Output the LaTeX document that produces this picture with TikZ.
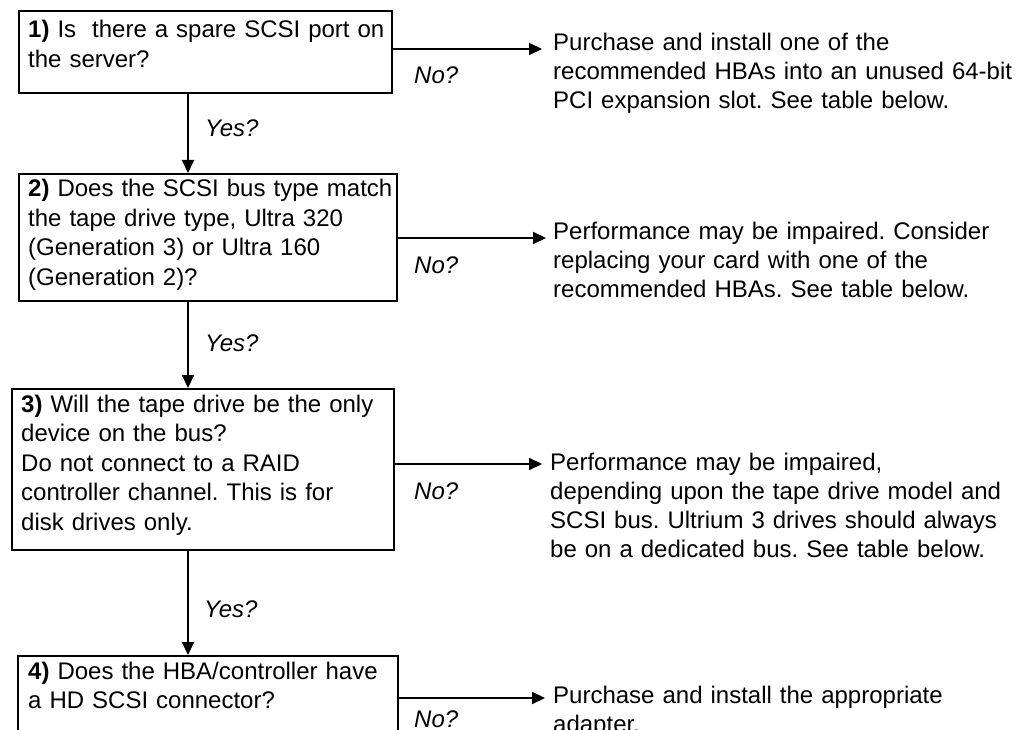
\documentclass[tikz,border=0pt]{standalone}
\usepackage{fontspec}
\setmainfont{Liberation Sans}
\usetikzlibrary{arrows.meta}
\frenchspacing
\begin{document}
\begin{tikzpicture}[x=1pt,y=-1pt,
  box/.style={draw, line width=2pt, rectangle, inner sep=0pt, anchor=north west},
  txt/.style={anchor=base west, align=left, inner sep=0pt, text width=470pt,
    font=\fontsize{24}{29.5}\selectfont\frenchspacing},
  rtxt/.style={anchor=base west, align=left, inner sep=0pt, text width=470pt,
    font=\fontsize{24}{29}\selectfont\frenchspacing},
  lab/.style={anchor=base west, inner sep=0pt, font=\fontsize{24}{29}\selectfont\itshape},
  arr/.style={line width=2pt, -{Triangle[length=13pt,width=12pt]}}]
\clip (0,0) rectangle (1026,730);
\fill[white] (0,0) rectangle (1026,730);
% boxes
\node[box, minimum width=373pt, minimum height=82pt] (b1) at (18,10) {};
\node[box, minimum width=378pt, minimum height=127pt] (b2) at (18,173) {};
\node[box, minimum width=382pt, minimum height=161pt] (b3) at (11,388) {};
\node[box, minimum width=380pt, minimum height=120pt] (b4) at (17,655) {};
% box texts
\node[txt] (q1) at (28,38) {\textbf{1)} Is~ there a spare SCSI port on\\the server?};
\node[txt] (q2) at (28,197) {\textbf{2)} Does the SCSI bus type match\\the tape drive type, Ultra 320\\(Generation 3) or Ultra 160\\(Generation 2)?};
\node[txt] (q3) at (21,412) {\textbf{3)} Will the tape drive be the only\\device on the bus?\\Do not connect to a RAID\\controller channel. This is for\\disk drives only.};
\node[txt] (q4) at (28,679) {\textbf{4)} Does the HBA/controller have\\a HD SCSI connector?};
% right texts
\node[rtxt] (r1) at (553,51) {Purchase and install one of the\\recommended HBAs into an unused 64-bit\\PCI expansion slot. See table below.};
\node[rtxt] (r2) at (553,240) {Performance may be impaired. Consider\\replacing your card with one of the\\recommended HBAs. See table below.};
\node[rtxt] (r3) at (550,470) {Performance may be impaired,\\depending upon the tape drive model and\\SCSI bus. Ultrium 3 drives should always\\be on a dedicated bus. See table below.};
\node[rtxt] (r4) at (553,703) {Purchase and install the appropriate\\adapter.};
% arrow ends
\coordinate (e1) at (542,49);
\coordinate (e2) at (546,238);
\coordinate (e3) at (542,464);
\coordinate (e4) at (545,698);
\draw[arr] (e1 -| b1.east) -- (e1);
\draw[arr] (e2 -| b2.east) -- (e2);
\draw[arr] (e3 -| b3.east) -- (e3);
\draw[arr] (e4 -| b4.east) -- (e4);
% vertical arrows
\coordinate (x1) at (188,0);
\draw[arr] (x1 |- b1.south) -- (x1 |- b2.north);
\draw[arr] (x1 |- b2.south) -- (x1 |- b3.north);
\draw[arr] (x1 |- b3.south) -- (x1 |- b4.north);
% labels
\node[lab] (n1) at (414,84) {No?};
\node[lab] (n2) at (414,274) {No?};
\node[lab] (n3) at (414,499) {No?};
\node[lab] (n4) at (414,727) {No?};
\node[lab] (y1) at (205,137) {Yes?};
\node[lab] (y2) at (205,352) {Yes?};
\node[lab] (y3) at (204,617) {Yes?};
\end{tikzpicture}
\end{document}
